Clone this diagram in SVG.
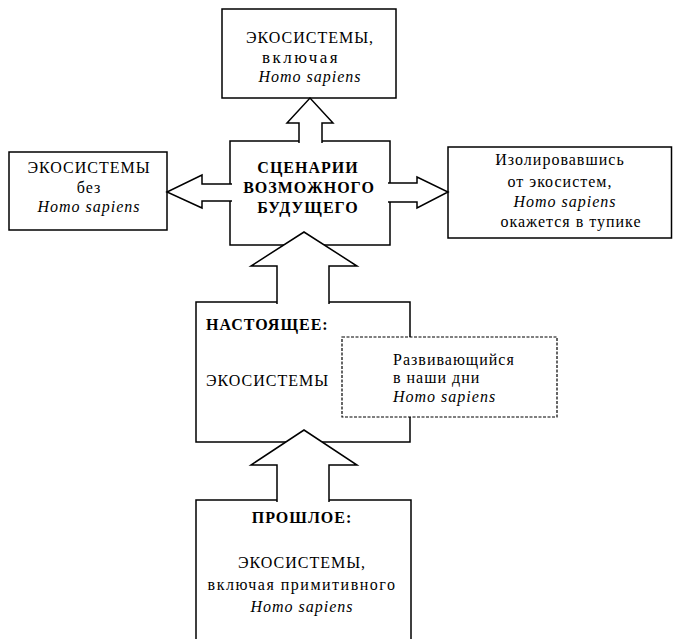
<svg xmlns="http://www.w3.org/2000/svg" width="673" height="639" viewBox="0 0 673 639">
<style>
.box{fill:#fff;stroke:#000;stroke-width:1.5}
.arr{fill:#fff;stroke:#000;stroke-width:1.5;stroke-linejoin:miter}
.dot{fill:#fff;stroke:#000;stroke-width:1.2;stroke-dasharray:3 1.5}
.t{font-size:16px;letter-spacing:1px;fill:#000}
.c{text-anchor:middle}
.b{font-weight:bold}
.i{font-style:italic}
.s{font-size:16px;letter-spacing:1.5px}
.s2{font-size:17px;letter-spacing:2.5px}
</style>
<rect width="673" height="639" fill="#fff"/>
<g font-family="Liberation Serif, Times New Roman, serif">
<g id="top">
<rect class="box" x="222" y="9" width="174" height="89"/>
<text class="t c" x="310" y="43">ЭКОСИСТЕМЫ,</text>
<text class="t c s2" x="301" y="63">включая</text>
<text class="t c i" x="310" y="82">Homo sapiens</text>
</g>
<g id="left">
<rect class="box" x="9" y="152" width="158" height="78"/>
<text class="t c" x="89" y="173">ЭКОСИСТЕМЫ</text>
<text class="t c" x="89" y="193">без</text>
<text class="t c i" x="89" y="212">Homo sapiens</text>
</g>
<g id="center">
<rect class="box" x="230" y="141" width="160" height="104"/>
<text class="t c b" x="308" y="173">СЦЕНАРИИ</text>
<text class="t c b" x="309" y="193">ВОЗМОЖНОГО</text>
<text class="t c b" x="308" y="213">БУДУЩЕГО</text>
</g>
<g id="right">
<rect class="box" x="448" y="147" width="223.5" height="91"/>
<text class="t c" x="560" y="165">Изолировавшись</text>
<text class="t c" x="560" y="187">от экосистем,</text>
<text class="t c i" x="565" y="207">Homo sapiens</text>
<text class="t c" x="571" y="227">окажется в тупике</text>
</g>
<g id="present">
<rect class="box" x="196" y="302" width="214" height="140"/>
<text class="t b" x="206" y="330">НАСТОЯЩЕЕ:</text>
<text class="t" x="206" y="386">ЭКОСИСТЕМЫ</text>
</g>
<g id="past">
<path class="box" d="M196,645 V500 H411 V645"/>
<text class="t c b" x="302" y="523">ПРОШЛОЕ:</text>
<text class="t c" x="302" y="568">ЭКОСИСТЕМЫ,</text>
<text class="t c s" x="302" y="590">включая примитивного</text>
<text class="t c i" x="302" y="612">Homo sapiens</text>
</g>
<g id="connectors">
<path class="arr" d="M299,143 V123 H287 L310,98 L333,123 H322 V143"/>
<path class="arr" d="M232,184 H202 V175 L167,192 L202,208 V201 H232"/>
<path class="arr" d="M388,183 H417 V177 L448,192 L417,208 V202 H388"/>
<path class="arr" d="M277,304 V266 H251 L304,232 L357,266 H329 V304"/>
<path class="arr" d="M277,502 V465 H251 L304,430 L357,465 H329 V502"/>
</g>
<g id="today">
<rect class="dot" x="342" y="337" width="215" height="80"/>
<text class="t" x="393" y="365">Развивающийся</text>
<text class="t" x="393" y="383">в наши дни</text>
<text class="t i" x="393" y="402">Homo sapiens</text>
</g>
</g>
</svg>
